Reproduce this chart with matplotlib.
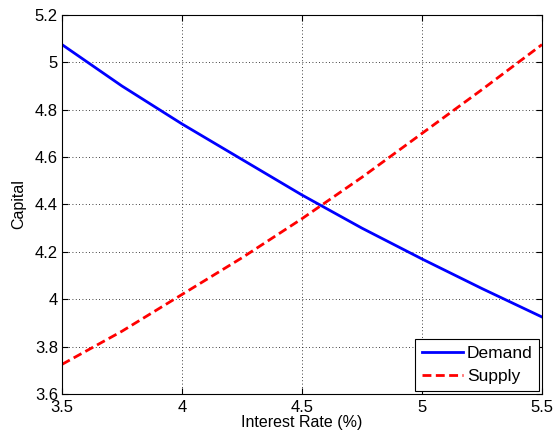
import numpy as np
from matplotlib import pyplot as plt

plt.rcParams['font.family'] = ['Liberation Sans', 'DejaVu Sans']

# interest rate (%) and capital
rate = [3.5, 3.75, 4.0, 4.25, 4.5, 4.75, 5.0, 5.25, 5.5]
demand = [5.075, 4.90, 4.74, 4.59, 4.44, 4.30, 4.17, 4.045, 3.925]
supply = [3.725, 3.865, 4.02, 4.175, 4.34, 4.515, 4.70, 4.885, 5.075]

xticks = [3.5, 4, 4.5, 5, 5.5]
yticks = [3.6, 3.8, 4, 4.2, 4.4, 4.6, 4.8, 5, 5.2]

fig = plt.figure(figsize=(5.56, 4.38), dpi=100)
ax = fig.add_axes([0.1115, 0.1005, 0.8633, 0.8653])

ax.plot(rate, demand, color='#0000ff', lw=2.0, label='Demand')
ax.plot(rate, supply, color='#ff0000', lw=2.0, ls=(0, (3.2, 1.6)), label='Supply')

ax.set_xlim(3.5, 5.5)
ax.set_ylim(3.6, 5.2)
ax.set_xticks(xticks)
ax.set_xticklabels(['3.5', '4', '4.5', '5', '5.5'])
ax.set_yticks(yticks)
ax.set_yticklabels(['3.6', '3.8', '4', '4.2', '4.4', '4.6', '4.8', '5', '5.2'])
ax.tick_params(direction='in', top=True, right=True, labelsize=12, length=4)
ax.tick_params(axis='x', pad=4)
ax.tick_params(axis='y', pad=3)
ax.grid(True, color='black', ls=(0, (1, 3)), lw=0.6)
for s in ax.spines.values():
    s.set_linewidth(0.8)

ax.set_xlabel('Interest Rate (%)', fontsize=11.5, labelpad=0)
ax.set_ylabel('Capital', fontsize=11.5, labelpad=6)

leg = ax.legend(loc='lower right', fontsize=12.5, fancybox=False, framealpha=1,
                edgecolor='black', borderaxespad=0.2, handlelength=2.4,
                handletextpad=0.2, borderpad=0.35, labelspacing=0.5)
leg.get_frame().set_linewidth(0.8)

fig.savefig('out.png', dpi=100)
